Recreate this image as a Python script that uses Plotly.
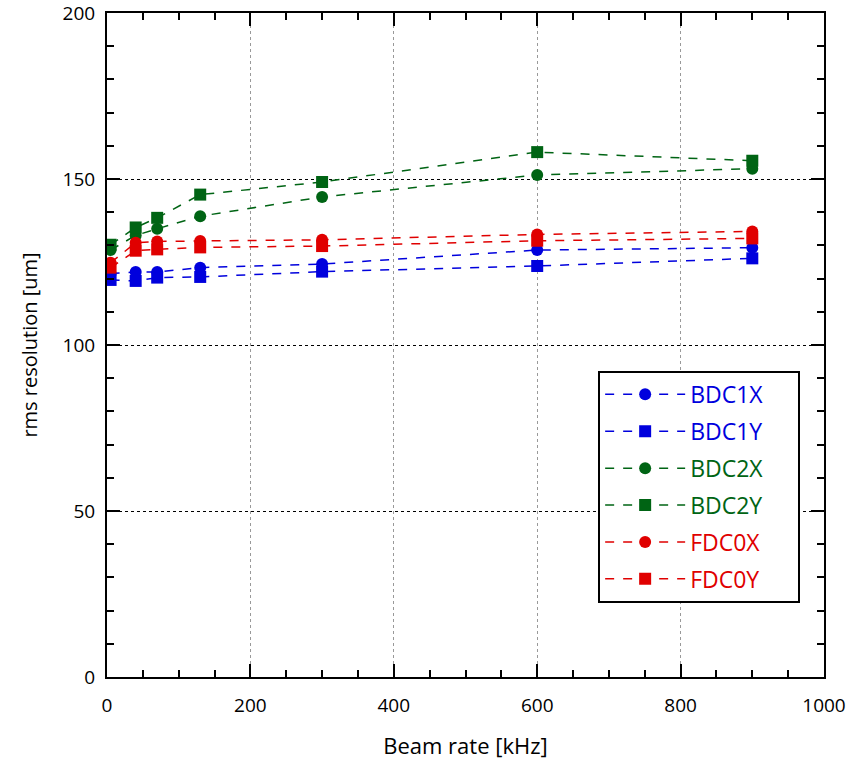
import plotly.graph_objects as go

# Beam rate [kHz]
beam_rate = [5, 40, 70, 130, 300, 600, 900]

# rms resolution [um] per drift-chamber plane
bdc1x = [121.5, 122.0, 122.0, 123.3, 124.4, 128.6, 129.3]
bdc1y = [119.6, 119.3, 120.3, 120.5, 122.1, 123.8, 126.1]
bdc2x = [128.6, 133.0, 135.0, 138.8, 144.6, 151.2, 153.1]
bdc2y = [130.2, 135.4, 138.3, 145.3, 149.1, 158.1, 155.5]
fdc0x = [124.8, 130.8, 131.2, 131.3, 131.7, 133.3, 134.2]
fdc0y = [123.3, 128.4, 128.8, 129.4, 129.8, 131.4, 132.1]

series = [
    ("BDC1X", bdc1x, "#0000DD", "circle"),
    ("BDC1Y", bdc1y, "#0000DD", "square"),
    ("BDC2X", bdc2x, "#006414", "circle"),
    ("BDC2Y", bdc2y, "#006414", "square"),
    ("FDC0X", fdc0x, "#E00000", "circle"),
    ("FDC0Y", fdc0y, "#E00000", "square"),
]

FONT = "Open Sans, Lato, sans-serif"

fig = go.Figure()
for name, vals, color, symbol in series:
    fig.add_trace(go.Scatter(
        x=beam_rate, y=vals, mode="lines+markers",
        name=f"<span style='color:{color}'>{name}</span>" + "&nbsp;" * 5,
        legendgroup=name,
        line=dict(color=color, width=1.5, dash="dash"),
        marker=dict(color=color, symbol=symbol, size=12),
    ))

axis_common = dict(
    showline=True, linecolor="black", linewidth=2, mirror="ticks",
    ticks="inside", tickcolor="black", tickwidth=2, ticklen=13,
    zeroline=False, tickfont=dict(family=FONT, size=19, color="black"),
    griddash="dot", gridwidth=1, automargin=False,
    ticklabeloverflow="allow",
)

fig.update_xaxes(
    range=[0, 1000], dtick=200, tick0=0,
    gridcolor="#999999", ticklabelstandoff=10,
    minor=dict(dtick=50, ticks="inside", ticklen=7, tickcolor="black",
               tickwidth=2, showgrid=False),
    title=dict(text="Beam rate [kHz]", font=dict(family=FONT, size=22, color="black"),
               standoff=22),
    **axis_common,
)
fig.update_yaxes(
    range=[0, 200], dtick=50, tick0=0,
    gridcolor="black", ticklabelstandoff=6,
    minor=dict(dtick=10, ticks="inside", ticklen=7, tickcolor="black",
               tickwidth=2, showgrid=False),
    title=dict(text="rms resolution [um]", font=dict(family=FONT, size=20, color="black"),
               standoff=20),
    **axis_common,
)

fig.update_layout(
    width=856, height=763,
    margin=dict(l=107, r=32, t=13, b=86),
    paper_bgcolor="white", plot_bgcolor="white",
    legend=dict(
        x=0.685, y=0.461, xanchor="left", yanchor="top",
        bgcolor="white", bordercolor="black", borderwidth=2,
        font=dict(family=FONT, size=23),
        tracegroupgap=4, itemwidth=80,
    ),
)

fig.write_html("out.html", config={"displayModeBar": False})
